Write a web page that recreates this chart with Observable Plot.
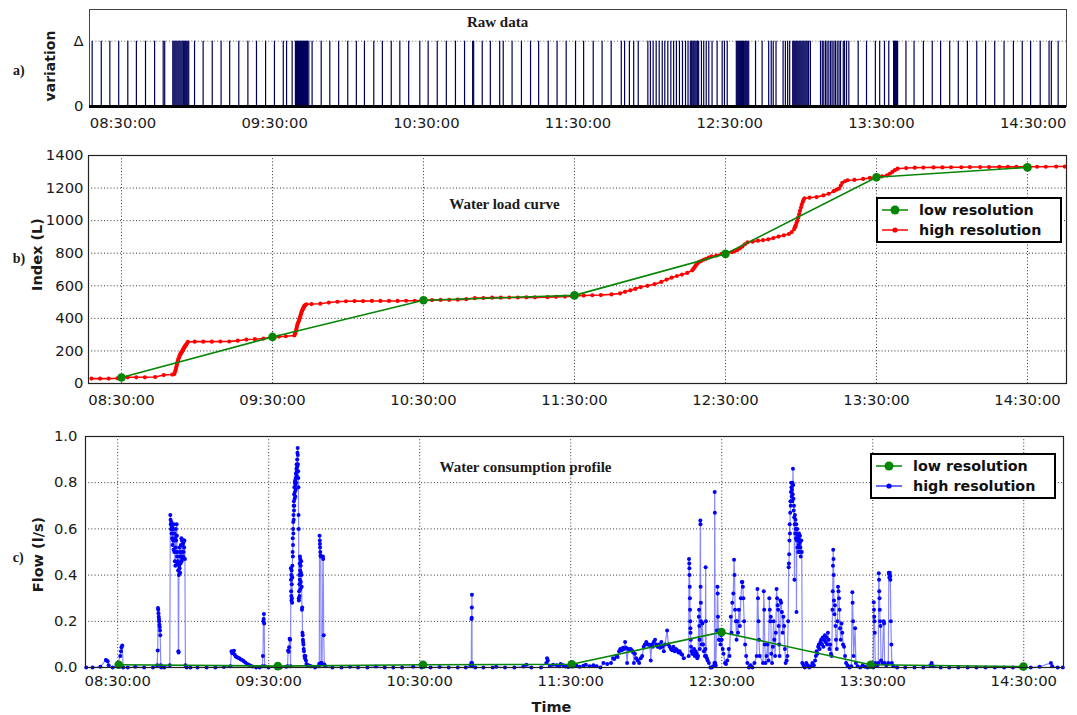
<!DOCTYPE html>
<html><head><meta charset="utf-8">
<script src="https://cdn.jsdelivr.net/npm/d3@7"></script>
<script src="https://cdn.jsdelivr.net/npm/@observablehq/plot@0.6"></script>
<style>
html,body{margin:0;padding:0;background:#fff;}
#chart{width:1077px;height:715px;overflow:hidden;}
#chart svg{display:block;}
</style></head><body><div id="chart"></div>
<script>
// time values are minutes after 08:00
const tickMinutes = [30, 90, 150, 210, 270, 330, 390];
const tickLabels = ["08:30:00", "09:30:00", "10:30:00", "11:30:00", "12:30:00", "13:30:00", "14:30:00"];
const indexTicks = [0, 200, 400, 600, 800, 1000, 1200, 1400];
const flowTicks = [0, 0.2, 0.4, 0.6, 0.8, 1.0];
const legendLabels = ["low resolution", "high resolution"];
const panelTitles = ["Raw data", "Water load curve", "Water consumption profile"];
const panelLetters = ["a)", "b)", "c)"];
const axisLabels = ["variation", "Index (L)", "Flow (l/s)", "Time"];

// a) raw data pulses (time of each variation Δ)
const pulseTimes = [
17.8,21.4,24.8,28.3,31.9,35.3,38.9,42.5,45.9,46.5,
49.7,50.1,50.5,50.9,51.3,51.7,52.1,52.5,52.9,53.3,53.7,54.0,54.4,54.8,55.2,55.6,56.0,
58.3,61.7,65.3,68.8,72.2,75.8,79.4,82.8,86.4,89.9,93.4,94.7,96.9,
98.2,98.6,99.0,99.4,99.8,100.2,100.6,101.0,101.4,101.8,102.2,102.6,103.0,103.5,
104.8,108.4,111.8,115.3,118.9,122.3,125.5,129.2,132.6,136.1,139.5,143.0,147.4,150.7,154.3,157.9,161.5,165.1,168.3,168.7,172.1,175.3,179.0,180.4,183.9,187.6,191.2,194.4,198.2,201.7,205.3,209.0,212.2,216.0,219.5,223.1,227.1,228.4,230.3,232.0,233.8,
237.6,238.6,239.7,240.9,242.1,243.3,244.3,245.5,246.7,247.8,248.9,250.1,251.3,252.5,253.5,
254.4,254.8,255.1,255.5,255.8,256.2,256.6,257.0,257.3,257.7,
258.8,259.7,260.7,261.7,263.0,265.0,267.0,267.9,269.0,
272.6,273.0,273.4,273.8,274.2,274.6,275.0,275.4,275.9,276.3,276.7,277.1,277.5,
280.2,282.8,285.4,286.4,287.2,288.3,291.1,292.0,292.9,293.7,
294.9,295.3,295.7,296.1,296.5,296.9,297.3,297.7,298.1,298.5,298.9,299.3,299.7,300.1,300.5,300.9,301.2,
301.9,305.9,306.6,307.2,307.9,308.5,309.2,309.9,310.5,311.2,311.8,312.5,313.2,313.8,314.9,315.4,316.2,317.1,
320.8,324.1,327.6,329.3,331.2,332.9,334.8,335.2,335.6,336.0,336.4,
339.7,342.9,346.6,350.1,353.4,357.0,360.4,364.0,367.7,371.2,374.8,378.5,382.2,385.7,389.0,392.8,396.3,397.2,399.9
];

// b) water index [minute, litres]
const indexHigh = [
[18.1,30],[21.5,30],[24.9,30],[28.4,32],[32.5,38],[35.9,38],[39.3,38],[43.4,40],[46.8,52],[50.2,55],[50.9,57],
[51.3,70],[51.5,82],[51.7,95],[51.9,108],[52.1,120],[52.3,133],[52.5,145],[52.75,155],[53.0,165],[53.2,173],[53.4,180],[53.6,185],[53.8,190],[54.0,195],[54.2,200],[54.4,206],[54.6,212],[54.8,217],[55.0,222],[55.2,227],[55.4,232],[55.7,238],[56.0,245],[56.4,255],
[59.1,257],[62.5,257],[65.9,257],[69.3,258],[72.8,258],[76.2,263],[79.6,270],[83.0,272],[86.4,276],[89.8,283],[92.6,288],[95.3,290],[98.7,295],
[99.0,305],[99.1,310],[99.3,322],[99.5,335],[99.7,348],[99.9,360],[100.1,370],[100.4,380],[100.6,390],[100.8,400],[101.0,410],[101.2,420],[101.4,430],[101.6,440],[101.8,448],[102.0,455],[102.2,462],[102.4,468],[102.6,473],[102.8,478],[103.1,482],[103.5,486],
[105.5,488],[109.0,490],[112.4,497],[115.8,502],[119.2,505],[122.6,506],[126.0,506],[129.5,507],[132.9,507],[136.3,507],[139.7,507],[143.1,508],[146.5,508],[149.9,510],[153.4,512],[156.8,513],[160.2,514],[163.6,515],[167.0,518],[170.4,524],[173.8,525],[177.3,527],[180.7,527],[184.1,528],[187.5,528],[190.9,529],[194.3,529],[199.3,530],[202.7,532],[206.2,534],[209.0,536],[213.7,540],[217.1,542],[220.5,543],[224.7,547],[228.1,553],[230.1,563],[232.2,572],[234.2,581],[236.3,592],[239.0,600],[241.8,610],[244.5,624],[246.6,638],[248.6,650],[250.7,660],[252.7,669],[254.8,679],[256.8,695],
[257.3,705],[257.8,715],[258.2,725],[258.8,735],[259.4,745],[260.3,752],[261.3,760],[262.3,766],[263.4,773],[264.4,780],[266.4,786],[268.5,796],[270.5,802],[272.6,806],[273.7,812],[274.7,820],[275.7,830],[276.7,841],[277.7,855],[278.8,867],[280.8,871],[282.9,877],[284.9,880],[287.0,885],[289.0,893],[291.1,902],[293.2,910],[295.2,918],[296.3,930],[297.3,948],
[297.6,960],[297.9,970],[298.2,985],[298.6,999],[298.9,1020],[299.3,1040],[299.6,1060],[300.0,1080],[300.3,1098],[300.7,1115],[301.0,1127],[301.4,1137],
[303.4,1141],[306.2,1145],[308.9,1155],[311.0,1165],[313.0,1181],[314.2,1190],[315.1,1197],[315.8,1215],[316.4,1232],[317.5,1242],[318.5,1248],[321.2,1250],[324.7,1256],[327.4,1262],[330.0,1267],[332.2,1272],[334.2,1278],[335.3,1288],[336.3,1299],[337.3,1310],[338.4,1319],[341.8,1323],[345.2,1325],[348.6,1326],[352.7,1327],[356.2,1327],[359.6,1328],[363.7,1328],[367.1,1329],[371.2,1329],[374.7,1329],[378.8,1330],[382.2,1330],[385.6,1330],[389.0,1331],[393.8,1331],[397.3,1331],[401.4,1332],[404.8,1332]
];
const indexLow = [[30,37],[90,286],[150,511],[210,541],[270,796],[330,1266],[390,1327]];

// c) flow [minute, l/s]
const flowHigh = [
[17.5,0],[20.0,0],[23.1,0.003],[25.3,0.033],[25.6,0.03],[26.0,0.027],[26.4,0.01],[28.0,0],[29.6,0.005],[30.1,0.02],[31.0,0.05],[31.3,0.07],[31.5,0.088],[31.8,0.095],[32.2,0],[34.0,0],[37.0,0.003],[40.5,0],[44.0,0],
[45.7,0.01],[45.9,0.074],[46.0,0.258],[46.1,0.25],[46.2,0.235],[46.3,0.22],[46.4,0.21],[46.5,0.2],[46.6,0.185],[46.7,0.175],[46.8,0.16],[46.9,0.14],[47.1,0.01],[47.3,0],
[48.5,0],[50.7,0.01],[50.9,0.66],[51.0,0.64],[51.1,0.62],[51.2,0.6],[51.3,0.63],[51.4,0.58],[51.5,0.61],[51.6,0.56],[51.7,0.6],[51.8,0.53],[51.9,0.58],[52.0,0.55],[52.1,0.6],[52.2,0.51],[52.3,0.62],[52.4,0.55],[52.5,0.5],[52.6,0.58],[52.7,0.46],[52.8,0.56],[52.9,0.44],[53.0,0.52],[53.1,0.6],[53.2,0.55],[53.3,0.5],[53.4,0.62],[53.5,0.57],[53.6,0.48],[53.7,0.45],[53.8,0.5],[53.9,0.46],[54.0,0.42],[54.1,0.07],[54.2,0.065],[54.3,0.4],[54.4,0.44],[54.5,0.52],[54.6,0.43],[54.7,0.48],[54.8,0.41],[54.9,0.5],[55.0,0.45],[55.1,0.53],[55.2,0.48],[55.3,0.56],[55.4,0.46],[55.5,0.55],[55.6,0.5],[55.7,0.47],[55.8,0.53],[55.9,0.55],[56.0,0.48],[56.1,0.54],[56.2,0.5],[56.3,0.55],[56.4,0.52],[56.5,0.55],[56.7,0.47],[56.9,0.01],[57.4,0],
[58.9,0],[61.7,0],[65.3,0],[68.8,0],[72.2,0.002],
[74.8,0.005],[75.2,0.07],[75.5,0.062],[75.8,0.068],[76.2,0.072],[76.5,0.055],[76.9,0.048],[77.3,0.045],[77.8,0.042],[78.3,0.04],[78.8,0.036],[79.4,0.032],[80.0,0.028],[80.7,0.022],[81.4,0.015],[82.1,0.012],[82.8,0.008],[83.5,0.004],[85.0,0],
[86.4,0],[87.5,0.005],[87.7,0.05],[87.9,0.2],[88.0,0.21],[88.1,0.232],[88.2,0.19],[88.4,0.005],[89.9,0],
[93.4,0],[94.7,0],[96.9,0.003],
[97.5,0.005],[97.7,0.074],[97.9,0.068],[98.1,0.088],[98.3,0.125],[98.5,0.12],[98.7,0.005],[98.8,0.43],[98.85,0.38],[98.9,0.33],[98.95,0.4],[99.0,0.31],[99.05,0.29],[99.1,0.42],[99.15,0.36],[99.2,0.3],[99.3,0.28],[99.35,0.39],[99.4,0.44],[99.5,0.5],[99.55,0.56],[99.6,0.48],[99.65,0.53],[99.7,0.6],[99.75,0.63],[99.8,0.58],[99.85,0.66],[99.9,0.7],[99.95,0.64],[100.0,0.72],[100.05,0.68],[100.1,0.75],[100.15,0.7],[100.2,0.78],[100.3,0.73],[100.35,0.8],[100.4,0.76],[100.5,0.81],[100.55,0.74],[100.6,0.79],[100.7,0.82],[100.75,0.77],[100.8,0.84],[100.9,0.8],[101.0,0.86],[101.05,0.83],[101.1,0.88],[101.2,0.85],[101.3,0.9],[101.35,0.87],[101.4,0.93],[101.5,0.95],[101.55,0.92],[101.6,0.88],[101.7,0.85],[101.75,0.82],[101.8,0.78],[101.85,0.66],[101.9,0.6],[101.95,0.3],[102.0,0.29],[102.1,0.33],[102.15,0.4],[102.2,0.36],[102.25,0.31],[102.3,0.45],[102.35,0.38],[102.4,0.48],[102.5,0.42],[102.55,0.47],[102.6,0.34],[102.7,0.44],[102.75,0.37],[102.8,0.41],[102.9,0.46],[103.0,0.4],[103.1,0.35],[103.2,0.25],[103.3,0.26],[103.4,0.15],[103.5,0.14],[103.6,0.12],[103.7,0.11],[103.8,0.1],[103.9,0.08],[104.0,0.07],[104.2,0.05],[104.4,0.04],[104.6,0.05],[104.8,0.03],[105.0,0.015],[105.3,0.01],[105.7,0.01],[106.2,0.008],[106.8,0.005],[108.4,0],
[109.8,0.005],[110.1,0.016],[110.2,0.57],[110.3,0.55],[110.35,0.535],[110.4,0.52],[110.5,0.5],[110.6,0.485],[110.7,0.48],[110.8,0.02],[111.0,0.02],[111.2,0.015],[111.55,0.48],[111.65,0.47],[111.85,0.14],[112.1,0.013],[112.5,0.005],[115.3,0],
[118.9,0],[122.3,0.003],[125.5,0],[129.2,0],[132.6,0.004],[136.1,0],[139.5,0],[143.0,0],[147.4,0.003],[150.7,0],[154.3,0],[157.9,0.002],[161.5,0],[165.1,0],[168.3,0],
[170.2,0.01],[170.5,0.02],[170.6,0.21],[170.65,0.215],[170.7,0.26],[170.75,0.315],[170.8,0.02],[171.0,0.005],[172.1,0],
[175.3,0],[179.0,0],[180.4,0.003],[183.9,0],[187.6,0],[191.2,0.004],[192.4,0.012],[194.4,0],[198.2,0],[200.3,0.02],[200.6,0.04],[200.9,0.03],[201.7,0.005],[203.0,0.012],[204.5,0.01],[205.3,0.005],[206.0,0.015],[207.0,0.01],[208.0,0.004],[209.0,0.002],
[211.0,0.005],[212.2,0.01],[213.5,0.003],[215.0,0.008],[216.0,0.012],[217.5,0.005],[219.0,0.01],[220.3,0.005],[221.8,0.0],[223.0,0.02],[224.5,0.015],[226.0,0.02],[226.8,0.04],[227.3,0.037],[228.2,0.05],[228.6,0.045],[229.2,0.07],[229.7,0.08],[230.3,0.075],[230.8,0.085],[231.2,0.08],[231.6,0.11],[232.0,0.085],[232.4,0.02],[232.8,0.08],[233.3,0.078],[233.8,0.08],[234.3,0.075],[234.8,0.065],[235.1,0.02],[235.5,0.06],[236.0,0.04],[236.6,0.03],[237.2,0.02],[237.8,0.04],[238.4,0.05],[239.0,0.09],[239.5,0.1],[240.0,0.11],[240.5,0.1],[241.0,0.1],[241.5,0.095],[241.8,0.03],[242.2,0.1],[242.6,0.09],[243.0,0.11],[243.5,0.12],[244.0,0.1],[244.5,0.09],[245.0,0.1],[245.5,0.085],[246.0,0.11],[246.5,0.09],[247.0,0.07],[247.5,0.1],[248.3,0.16],[248.8,0.1],[249.3,0.09],[249.8,0.08],[250.3,0.075],[250.8,0.09],[251.3,0.07],[251.8,0.08],[252.3,0.075],[252.8,0.065],[253.3,0.07],[253.8,0.06],[254.3,0.055],[254.9,0.04],
[256.9,0.05],[257.0,0.47],[257.1,0.45],[257.15,0.43],[257.2,0.4],[257.3,0.35],[257.35,0.3],[257.4,0.25],[257.5,0.2],[257.55,0.17],[257.6,0.15],[257.7,0.12],[257.8,0.09],[258.0,0.07],[258.3,0.06],
[258.7,0.06],[259.0,0.08],[259.3,0.05],[259.6,0.07],[260.0,0.06],[260.3,0.04],[260.6,0.05],[260.9,0.22],[261.0,0.25],[261.1,0.18],[261.2,0.12],[261.3,0.08],[261.5,0.636],[261.55,0.62],[261.6,0.35],[261.7,0.28],[261.8,0.2],[262.0,0.1],
[262.3,0.19],[262.6,0.1],[262.9,0.07],[263.3,0.05],[263.5,0.08],[263.6,0.434],[263.7,0.2],[263.8,0.05],[264.1,0.04],[264.4,0.03],[264.9,0.02],
[265.5,0.0],[266.0,0.0],[266.6,0.005],[267.1,0.02],[267.2,0.76],[267.25,0.67],[267.4,0.02],[267.6,0.01],
[268.1,0.16],[268.3,0.35],[268.4,0.32],[268.5,0.22],[268.7,0.16],[268.9,0.12],[269.2,0.12],[269.5,0.1],[269.8,0.14],[270.0,0.12],[270.4,0.08],[270.7,0.06],
[271.3,0.02],[271.7,0.015],[272.2,0.03],[272.8,0.08],[273.1,0.05],
[273.6,0.22],[273.9,0.15],[274.2,0.28],[274.6,0.32],[274.9,0.466],[275.1,0.4],[275.3,0.25],[275.6,0.2],[275.9,0.12],
[276.2,0.2],[276.5,0.15],[276.8,0.25],[277.2,0.18],[277.6,0.3],[278.0,0.37],[278.2,0.37],[278.4,0.35],[278.6,0.3],[278.9,0.2],[279.3,0.1],[279.7,0.05],
[280.2,0.02],[280.8,0.0],[281.5,0.01],[282.2,0.0],[283.0,0.02],
[283.9,0.05],[284.2,0.34],[284.4,0.3],[284.6,0.2],[284.8,0.12],[285.1,0.05],
[286.4,0.02],[286.7,0.33],[286.9,0.25],[287.1,0.1],[287.4,0.02],
[287.8,0.05],[288.2,0.1],[288.6,0.03],[288.9,0.3],[289.1,0.25],[289.3,0.2],[289.5,0.22],[289.7,0.06],[290.0,0.02],[290.3,0.09],[290.6,0.2],[290.9,0.12],[291.2,0.05],[291.5,0.15],[291.8,0.34],[292.0,0.3],[292.2,0.27],[292.4,0.25],[292.6,0.18],[292.8,0.1],[293.0,0.05],[293.3,0.29],[293.6,0.28],[293.9,0.24],[294.2,0.15],[294.5,0.22],[294.8,0.18],[295.1,0.08],[295.4,0.02],[295.8,0.03],[296.1,0.05],
[296.4,0.2],[296.6,0.434],[296.7,0.45],[296.8,0.49],[296.9,0.55],[297.0,0.62],[297.1,0.58],[297.2,0.67],[297.3,0.72],[297.4,0.7],[297.5,0.76],[297.6,0.8],[297.7,0.78],[297.8,0.74],[297.9,0.77],[298.0,0.72],[298.1,0.8],[298.2,0.75],[298.3,0.86],[298.4,0.79],[298.5,0.73],[298.6,0.68],[298.7,0.7],[298.8,0.65],[298.9,0.38],[299.0,0.62],[299.1,0.66],[299.2,0.58],[299.3,0.64],[299.4,0.6],[299.5,0.56],[299.6,0.62],[299.7,0.24],[299.8,0.58],[299.9,0.55],[300.0,0.6],[300.1,0.52],[300.2,0.57],[300.3,0.55],[300.4,0.5],[300.5,0.56],[300.6,0.53],[300.7,0.58],[300.8,0.55],[300.9,0.5],[301.0,0.54],[301.1,0.57],[301.2,0.52],[301.4,0.48],[301.6,0.55],[301.8,0.5],[302.0,0.02],[302.5,0.01],[303.0,0.0],[303.6,0.02],[304.2,0.01],[304.8,0.0],[305.4,0.005],[306.0,0.02],[306.6,0.01],[307.1,0.03],
[307.4,0.05],[307.7,0.07],[308.0,0.06],[308.3,0.09],[308.6,0.1],[308.9,0.08],[309.2,0.11],[309.5,0.12],[309.8,0.1],[310.1,0.13],[310.4,0.09],[310.7,0.12],[311.0,0.14],[311.3,0.11],[311.6,0.13],[311.9,0.1],[312.2,0.15],[312.5,0.12],[312.8,0.08],[313.1,0.1],[313.4,0.06],[313.7,0.05],[314.0,0.25],[314.1,0.33],[314.2,0.44],[314.3,0.51],[314.4,0.47],[314.5,0.4],[314.6,0.29],[314.8,0.23],[315.0,0.27],[315.2,0.18],[315.4,0.12],[315.7,0.08],[316.0,0.2],[316.2,0.35],[316.4,0.33],[316.6,0.3],[316.8,0.25],[317.0,0.17],[317.3,0.12],[317.6,0.19],[317.9,0.15],[318.2,0.1],[318.6,0.09],[319.0,0.05],[319.4,0.02],[320.0,0.01],[320.8,0.0],[321.5,0.005],[321.9,0.326],[322.0,0.28],[322.2,0.2],[322.4,0.05],[323.0,0.17],[323.3,0.02],[324.0,0.005],[325.0,0.0],[326.0,0.01],[327.0,0.003],[328.0,0.0],[329.0,0.004],
[330.2,0.0],[330.4,0.283],[330.5,0.25],[330.6,0.22],[330.7,0.2],[330.8,0.15],[331.0,0.02],[331.4,0.01],[331.9,0.01],[332.2,0.02],[332.4,0.408],[332.5,0.38],[332.6,0.33],[332.7,0.3],[332.8,0.25],[332.9,0.2],[333.1,0.18],[333.3,0.03],[333.8,0.02],[334.3,0.2],[334.5,0.19],[334.7,0.02],[335.4,0.01],[336.2,0.02],[336.4,0.41],[336.5,0.405],[336.6,0.39],[336.7,0.4],[336.8,0.41],[336.9,0.395],[337.0,0.38],[337.2,0.2],[337.4,0.1],[337.6,0.02],[338.2,0.005],[339.7,0],[342.9,0],
[346.6,0],[350.1,0],[352.9,0.01],[353.4,0.02],[354.0,0.005],[357.0,0],[360.4,0],[364.0,0],[367.7,0],[371.2,0],[374.8,0],[378.5,0],[382.2,0],[385.7,0],[389.0,0],[392.8,0],[396.3,0.003],[400.8,0.02],[401.3,0.005],[403.5,0],[405.5,0]
];
const flowLow = [[30.4,0.012],[93.6,0.006],[151.3,0.012],[210.4,0.014],[269.9,0.153],[329.2,0.012],[389.9,0.004]];

// ---------- styling ----------
const W = 1077;
const SANS = "'DejaVu Sans', Verdana, sans-serif";
const SERIF = "'Liberation Serif', 'Times New Roman', serif";
const GREEN = "#078507", RED = "#ff0000", BLUE = "#0000ff", NAVY = "#00005c";
const style = {fontFamily: SANS, fontSize: "14.8px", color: "#1a1a1a", background: "white", overflow: "visible"};
const xFmt = d => tickLabels[tickMinutes.indexOf(d)];
const dotted = {stroke: "#333", strokeDasharray: "1,2.2", strokeWidth: 1};
const label = (txt, o) => Plot.text([txt], {text: d => d, textAnchor: "middle", lineAnchor: "middle", ...o});
const P = d => d[0], V = d => d[1];

function addLegend(svg, x, y, colors, radii, lineColors) {
  const g = d3.select(svg).append("g").attr("text-anchor", "start");
  g.append("rect").attr("x", x).attr("y", y).attr("width", 184).attr("height", 44)
    .attr("fill", "white").attr("stroke", "black").attr("stroke-width", 2);
  legendLabels.forEach((lab, i) => {
    const cy = y + 12 + i * 20;
    g.append("line").attr("x1", x + 5).attr("x2", x + 31).attr("y1", cy).attr("y2", cy)
      .attr("stroke", lineColors[i]).attr("stroke-width", 1.5);
    g.append("circle").attr("cx", x + 18).attr("cy", cy).attr("r", radii[i]).attr("fill", colors[i]);
    g.append("text").attr("x", x + 42).attr("y", cy).attr("dy", "0.35em").attr("text-anchor", "start")
      .attr("font-family", SANS).attr("font-weight", "bold").attr("font-size", 14.3).attr("fill", "#111").text(lab);
  });
}

const root = document.getElementById("chart");

// ---------- a) Raw data ----------
const plotA = Plot.plot({
  width: W, height: 138, marginTop: 9, marginBottom: 32, marginLeft: 89, marginRight: 11, style,
  x: {domain: [16.75, 403.2], ticks: tickMinutes, tickFormat: xFmt, tickSize: 0, tickPadding: 10.5, label: null},
  y: {domain: [0, 1.485], ticks: [0, 1], tickFormat: d => d === 1 ? "Δ" : "0", tickSize: 0, tickPadding: 6, label: null},
  marks: [
    Plot.ruleY([1], {...dotted, stroke: "#666"}),
    Plot.ruleX(pulseTimes, {x: d => d, y1: 0, y2: 1, stroke: NAVY, strokeWidth: 1.2}),
    Plot.frame({stroke: "#444", strokeWidth: 1}),
    Plot.ruleY([0], {stroke: "black", strokeWidth: 3}),
    label(panelTitles[0], {frameAnchor: "top", dx: -80.5, dy: 12.7, fontFamily: SERIF, fontWeight: "bold", fontSize: 15}),
    label(axisLabels[0], {frameAnchor: "left", dx: -39, dy: 8, rotate: -90, fontWeight: "bold", fontSize: 14}),
    label(panelLetters[0], {frameAnchor: "left", dx: -70.7, dy: 12.5, fontFamily: SERIF, fontWeight: "bold", fontSize: 14})
  ]
});
root.appendChild(plotA);

// ---------- b) Water load curve ----------
const plotB = Plot.plot({
  width: W, height: 274, marginTop: 17, marginBottom: 29, marginLeft: 88, marginRight: 11, style,
  x: {domain: [16.9, 405.5], ticks: tickMinutes, tickFormat: xFmt, tickSize: 0, tickPadding: 11, label: null},
  y: {domain: [0, 1400], ticks: indexTicks, tickFormat: d => String(d), tickSize: 0, tickPadding: 5, label: null},
  marks: [
    Plot.ruleX(tickMinutes, dotted),
    Plot.ruleY(indexTicks, dotted),
    Plot.line(indexHigh, {x: P, y: V, stroke: RED, strokeWidth: 1.6}),
    Plot.dot(indexHigh, {x: P, y: V, r: 2.1, fill: RED, stroke: null}),
    Plot.line(indexLow, {x: P, y: V, stroke: GREEN, strokeWidth: 1.6}),
    Plot.dot(indexLow, {x: P, y: V, r: 4.3, fill: GREEN, stroke: null}),
    Plot.frame({stroke: "#222", strokeWidth: 1.2}),
    label(panelTitles[1], {frameAnchor: "top", dx: -73, dy: 48.5, fontFamily: SERIF, fontWeight: "bold", fontSize: 15}),
    label(axisLabels[1], {frameAnchor: "left", dx: -51, dy: -15, rotate: -90, fontWeight: "bold", fontSize: 14.5}),
    label(panelLetters[1], {frameAnchor: "left", dx: -69.5, dy: -10.7, fontFamily: SERIF, fontWeight: "bold", fontSize: 14})
  ]
});
root.appendChild(plotB);
addLegend(plotB, 877, 60, [GREEN, RED], [4.5, 2.6], [GREEN, RED]);

// ---------- c) Water consumption profile ----------
const plotC = Plot.plot({
  width: W, height: 303, marginTop: 24, marginBottom: 48, marginLeft: 85, marginRight: 14, style,
  x: {domain: [17.2, 405.8], ticks: tickMinutes, tickFormat: xFmt, tickSize: 0, tickPadding: 8, label: null},
  y: {domain: [0, 1], ticks: flowTicks, tickFormat: d3.format(".1f"), tickSize: 0, tickPadding: 8, label: null},
  marks: [
    Plot.ruleX(tickMinutes, dotted),
    Plot.ruleY(flowTicks, dotted),
    Plot.line(flowHigh, {x: P, y: V, stroke: "#3a3aff", strokeOpacity: 0.6, strokeWidth: 1.2}),
    Plot.dot(flowHigh, {x: P, y: V, r: 2, fill: BLUE, stroke: null}),
    Plot.line(flowLow, {x: P, y: V, stroke: GREEN, strokeWidth: 1.6}),
    Plot.dot(flowLow, {x: P, y: V, r: 4.3, fill: GREEN, stroke: null}),
    Plot.frame({stroke: "#222", strokeWidth: 1.2}),
    label(panelTitles[2], {frameAnchor: "top", dx: -49, dy: 30.7, fontFamily: SERIF, fontWeight: "bold", fontSize: 15}),
    label(axisLabels[2], {frameAnchor: "left", dx: -47.5, dy: 2.5, rotate: -90, fontWeight: "bold", fontSize: 14.5}),
    label(axisLabels[3], {frameAnchor: "bottom", dx: -23, dy: 39.7, fontWeight: "bold", fontSize: 14.5}),
    label(panelLetters[2], {frameAnchor: "left", dx: -67.3, dy: 5.2, fontFamily: SERIF, fontWeight: "bold", fontSize: 14})
  ]
});
root.appendChild(plotC);
addLegend(plotC, 871, 42, [GREEN, BLUE], [4.5, 2.6], [GREEN, "#3a3aff"]);
</script>
</body></html>
